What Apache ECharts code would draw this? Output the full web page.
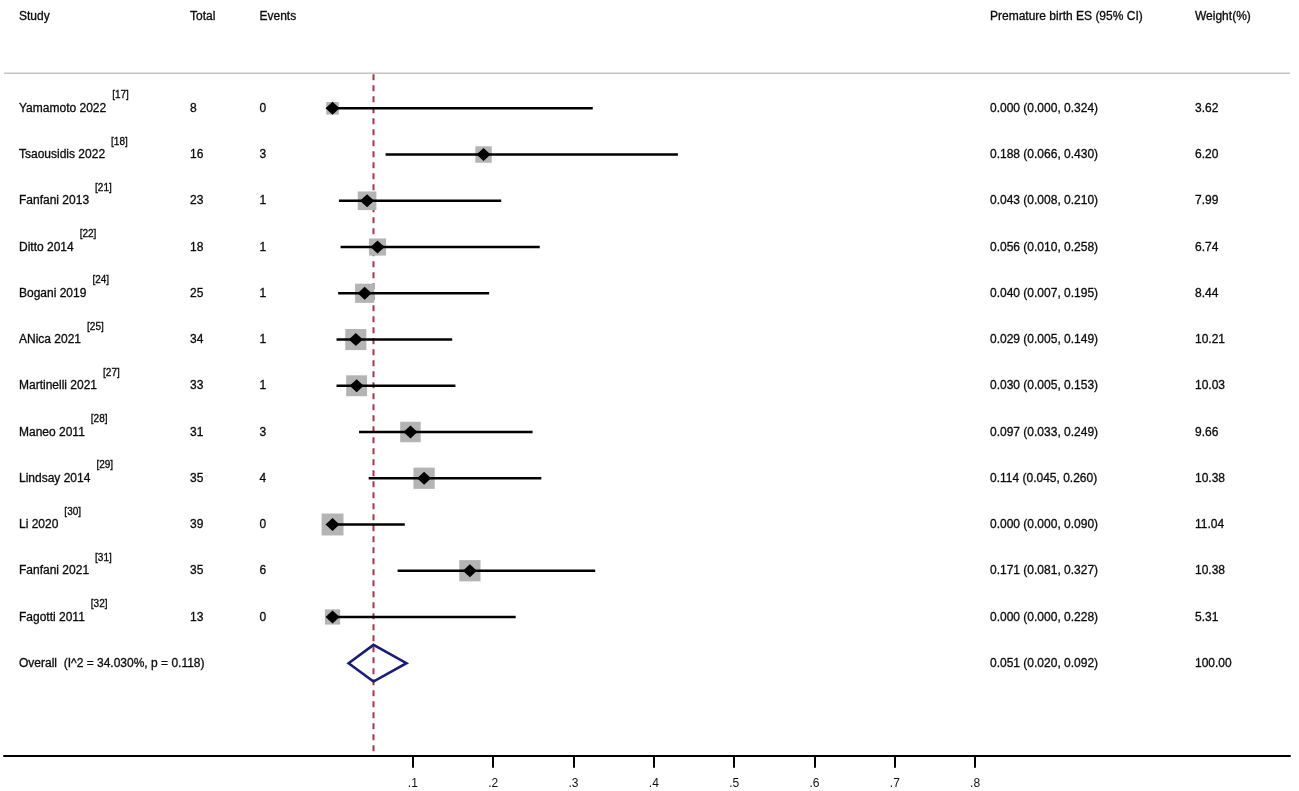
<!DOCTYPE html>
<html>
<head>
<meta charset="utf-8">
<script src="https://cdn.jsdelivr.net/npm/echarts@6/dist/echarts.min.js"></script>
<style>
html,body{margin:0;padding:0;background:#fff;}
#chart{width:1299px;height:791px;}
</style>
</head>
<body>
<div id="chart"></div>
<script>
// ---------- data ----------
const headers = ['Study', 'Total', 'Events', 'Premature birth ES (95% CI)', 'Weight(%)'];
const studies = ['Yamamoto 2022', 'Tsaousidis 2022', 'Fanfani 2013', 'Ditto 2014', 'Bogani 2019', 'ANica 2021',
  'Martinelli 2021', 'Maneo 2011', 'Lindsay 2014', 'Li 2020', 'Fanfani 2021', 'Fagotti 2011'];
const refs = ['[17]', '[18]', '[21]', '[22]', '[24]', '[25]', '[27]', '[28]', '[29]', '[30]', '[31]', '[32]'];
const totals = [8, 16, 23, 18, 25, 34, 33, 31, 35, 39, 35, 13];
const events = [0, 3, 1, 1, 1, 1, 1, 3, 4, 0, 6, 0];
const es = [0.000, 0.188, 0.043, 0.056, 0.040, 0.029, 0.030, 0.097, 0.114, 0.000, 0.171, 0.000];
const lower = [0.000, 0.066, 0.008, 0.010, 0.007, 0.005, 0.005, 0.033, 0.045, 0.000, 0.081, 0.000];
const upper = [0.324, 0.430, 0.210, 0.258, 0.195, 0.149, 0.153, 0.249, 0.260, 0.090, 0.327, 0.228];
const weights = [3.62, 6.20, 7.99, 6.74, 8.44, 10.21, 10.03, 9.66, 10.38, 11.04, 10.38, 5.31];
const overallES = 0.051;
const overallLower = 0.020;
const overallUpper = 0.092;
const overallWeight = 100.00;
const overallI2 = 34.030;
const overallP = 0.118;
const tickValues = [0.1, 0.2, 0.3, 0.4, 0.5, 0.6, 0.7, 0.8];

// ---------- layout ----------
const FONT = '"Liberation Sans", Arial, Helvetica, sans-serif';
const TEXT_COLOR = '#0a0a0a';
const XMIN = -0.409, XMAX = 1.192;
const HEADER_ROW = -2, RULE_ROW = -0.757, AXIS_ROW = 14;
const colX = [19, 190, 259.5, 990, 1195];
const overallRow = studies.length;

const measureCtx = document.createElement('canvas').getContext('2d');
function textWidth(t, size) {
  measureCtx.font = size + 'px ' + FONT;
  return measureCtx.measureText(t).width;
}
function fmtCI(e, l, u) {
  return e.toFixed(3) + ' (' + l.toFixed(3) + ', ' + u.toFixed(3) + ')';
}

// text rows
const textRows = [];
textRows.push({ row: HEADER_ROW, cells: headers, sup: null });
studies.forEach((s, i) => {
  textRows.push({
    row: i,
    cells: [s, String(totals[i]), String(events[i]), fmtCI(es[i], lower[i], upper[i]), weights[i].toFixed(2)],
    sup: refs[i]
  });
});
textRows.push({
  row: overallRow,
  cells: ['Overall  (I^2 = ' + overallI2.toFixed(3) + '%, p = ' + overallP.toFixed(3) + ')', '', '',
    fmtCI(overallES, overallLower, overallUpper), overallWeight.toFixed(2)],
  sup: null
});

function txt(x, y, t, size) {
  return {
    type: 'text', silent: true,
    style: {
      x: x, y: y, text: t, fill: TEXT_COLOR, fontSize: size, fontFamily: FONT, align: 'left', verticalAlign: 'middle',
      stroke: TEXT_COLOR, lineWidth: 0.3
    }
  };
}

const chart = echarts.init(document.getElementById('chart'), null, { renderer: 'canvas' });

const option = {
  backgroundColor: '#ffffff',
  animation: false,
  grid: { left: 4, right: 9, top: 0, bottom: 35.3, containLabel: false, outerBoundsMode: 'none' },
  xAxis: {
    type: 'value', min: XMIN, max: XMAX,
    splitLine: { show: false },
    axisLine: { show: true, onZero: false, lineStyle: { color: '#000', width: 2 } },
    axisTick: { show: true, customValues: tickValues, length: 12, inside: false, lineStyle: { color: '#000', width: 2 } },
    axisLabel: {
      show: true, customValues: tickValues, margin: 22, color: '#111', fontSize: 12, fontFamily: FONT,
      formatter: v => String(+v.toFixed(1)).replace(/^0\./, '.')
    }
  },
  yAxis: {
    type: 'value', inverse: true, min: HEADER_ROW - 0.342, max: AXIS_ROW, show: false,
    splitLine: { show: false }
  },
  series: [
    // header rule
    {
      type: 'custom', clip: false, silent: true, z: 1,
      data: [[XMIN, RULE_ROW, XMAX]],
      renderItem: (params, api) => {
        const a = api.coord([api.value(0), api.value(1)]);
        const b = api.coord([api.value(2), api.value(1)]);
        return { type: 'line', shape: { x1: a[0], y1: a[1], x2: b[0], y2: b[1] }, style: { stroke: '#c4c4c4', lineWidth: 1.6 } };
      }
    },
    // dashed reference line at overall estimate
    {
      type: 'custom', clip: false, silent: true, z: 2,
      data: [[overallES, RULE_ROW, AXIS_ROW]],
      renderItem: (params, api) => {
        const a = api.coord([api.value(0), api.value(1)]);
        const b = api.coord([api.value(0), api.value(2)]);
        return { type: 'line', shape: { x1: a[0], y1: a[1] + 1, x2: b[0], y2: b[1] }, style: { stroke: '#a3384a', lineWidth: 2, lineDash: [6, 5] } };
      }
    },
    // study markers
    {
      type: 'custom', clip: false, silent: true, z: 3,
      data: studies.map((s, i) => [es[i], i, lower[i], upper[i], weights[i]]),
      renderItem: (params, api) => {
        const r = api.value(1);
        const pe = api.coord([api.value(0), r]);
        const pl = api.coord([api.value(2), r]);
        const ph = api.coord([api.value(3), r]);
        const side = 6.6 * Math.sqrt(api.value(4));
        return {
          type: 'group', children: [
            { type: 'rect', shape: { x: pe[0] - side / 2, y: pe[1] - side / 2, width: side, height: side }, style: { fill: '#b4b4b4' } },
            { type: 'line', shape: { x1: pl[0], y1: pl[1], x2: ph[0], y2: ph[1] }, style: { stroke: '#000', lineWidth: 2.6 } },
            { type: 'polygon', shape: { points: [[pe[0] - 7, pe[1]], [pe[0], pe[1] - 6.5], [pe[0] + 7, pe[1]], [pe[0], pe[1] + 6.5]] }, style: { fill: '#000' } }
          ]
        };
      }
    },
    // overall diamond
    {
      type: 'custom', clip: false, silent: true, z: 4,
      data: [[overallES, overallRow, overallLower, overallUpper]],
      renderItem: (params, api) => {
        const r = api.value(1);
        const pe = api.coord([api.value(0), r]);
        const pl = api.coord([api.value(2), r]);
        const ph = api.coord([api.value(3), r]);
        const hh = api.size([0, 1])[1] * 0.396;
        return {
          type: 'polygon',
          shape: { points: [[pl[0], pl[1]], [pe[0], pe[1] - hh], [ph[0], ph[1]], [pe[0], pe[1] + hh]] },
          style: { fill: 'none', stroke: '#1b1b78', lineWidth: 2.6, lineJoin: 'miter' }
        };
      }
    },
    // text table
    {
      type: 'custom', clip: false, silent: true, z: 5,
      data: textRows.map((t, i) => [0, t.row, i]),
      renderItem: (params, api) => {
        const t = textRows[api.value(2)];
        const y = api.coord([0, api.value(1)])[1] + 0.4;
        const children = [];
        t.cells.forEach((c, k) => { if (c) children.push(txt(colX[k], y, c, 12)); });
        if (t.sup) {
          const w = textWidth(t.cells[0], 12);
          children.push(txt(colX[0] + w + 6, y - 13, t.sup, 10));
        }
        return { type: 'group', children: children };
      }
    }
  ]
};
chart.setOption(option);
</script>
</body>
</html>
